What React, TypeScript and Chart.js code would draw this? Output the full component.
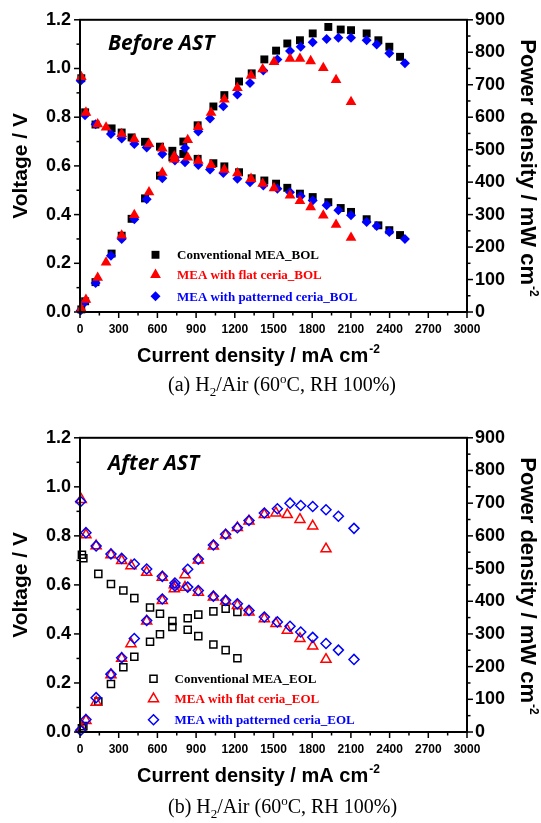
import React, { useEffect, useRef } from 'react';
import { Chart, registerables } from 'chart.js';
import { drawPoint } from 'chart.js/helpers';

Chart.register(...registerables);

const SANS = "'Liberation Sans', Arial, Helvetica, sans-serif";
const SERIF = "'Liberation Serif', 'Times New Roman', Times, serif";

// Axis ticks (mA cm-2, V, mW cm-2)
const currentTicks = [0, 300, 600, 900, 1200, 1500, 1800, 2100, 2400, 2700, 3000];
const voltageTicks = [0, 0.2, 0.4, 0.6, 0.8, 1.0, 1.2];
const powerTicks = [0, 100, 200, 300, 400, 500, 600, 700, 800, 900];

// ---- Before AST (BOL) ----
const bolConvCurrent = [10, 40, 120, 245, 323, 400, 504, 620, 716, 801, 912, 1034, 1119, 1233, 1331, 1429, 1520, 1607, 1705, 1804, 1925, 2021, 2101, 2222, 2313, 2398, 2481];
const bolConvVoltage = [0.96, 0.82, 0.77, 0.754, 0.737, 0.717, 0.699, 0.679, 0.662, 0.649, 0.629, 0.611, 0.598, 0.574, 0.549, 0.54, 0.527, 0.51, 0.486, 0.472, 0.451, 0.427, 0.411, 0.381, 0.356, 0.336, 0.316];
const bolConvPower = [8, 33, 92, 180, 235, 287, 350, 420, 476, 525, 575, 633, 668, 710, 735, 778, 805, 827, 837, 858, 878, 870, 868, 858, 837, 817, 786];

const bolFlatCurrent = [10, 46, 137, 202, 323, 421, 535, 638, 731, 835, 917, 1016, 1119, 1220, 1326, 1416, 1504, 1628, 1705, 1788, 1886, 1985, 2101];
const bolFlatVoltage = [0.965, 0.819, 0.771, 0.758, 0.731, 0.71, 0.69, 0.672, 0.64, 0.635, 0.622, 0.604, 0.585, 0.57, 0.547, 0.527, 0.509, 0.479, 0.456, 0.431, 0.397, 0.359, 0.305];
const bolFlatPower = [10, 38, 106, 153, 236, 299, 369, 429, 470, 530, 570, 614, 655, 690, 728, 748, 770, 780, 780, 773, 752, 715, 647];

const bolPatCurrent = [5, 39, 121, 240, 323, 421, 517, 638, 736, 814, 917, 1008, 1111, 1220, 1318, 1421, 1530, 1628, 1711, 1804, 1912, 2003, 2101, 2222, 2300, 2398, 2519];
const bolPatVoltage = [0.95, 0.808, 0.771, 0.731, 0.713, 0.69, 0.676, 0.649, 0.635, 0.615, 0.604, 0.585, 0.571, 0.547, 0.533, 0.52, 0.506, 0.492, 0.476, 0.458, 0.438, 0.418, 0.397, 0.37, 0.353, 0.329, 0.3];
const bolPatPower = [5, 31, 89, 173, 225, 286, 347, 412, 467, 505, 556, 596, 634, 670, 705, 744, 778, 804, 817, 831, 841, 845, 845, 837, 824, 797, 766];

// ---- After AST (EOL) ----
const eolConvCurrent = [15, 26, 142, 240, 336, 421, 543, 620, 716, 835, 917, 1034, 1129, 1220];
const eolConvVoltage = [0.723, 0.709, 0.645, 0.604, 0.577, 0.546, 0.508, 0.482, 0.453, 0.417, 0.391, 0.357, 0.334, 0.301];
const eolConvPower = [11, 18, 93, 147, 198, 230, 276, 299, 321, 348, 359, 369, 377, 367];

const eolFlatCurrent = [10, 46, 125, 240, 323, 395, 517, 638, 731, 814, 917, 1034, 1129, 1220, 1310, 1429, 1519, 1607, 1705, 1804, 1907];
const eolFlatVoltage = [0.948, 0.804, 0.759, 0.723, 0.699, 0.678, 0.651, 0.631, 0.6, 0.59, 0.57, 0.55, 0.534, 0.516, 0.489, 0.462, 0.442, 0.415, 0.381, 0.35, 0.296];
const eolFlatPower = [9, 35, 91, 175, 225, 270, 339, 402, 438, 481, 526, 569, 602, 625, 645, 665, 670, 665, 650, 630, 560];

const eolPatCurrent = [5, 46, 125, 240, 323, 421, 517, 638, 736, 835, 917, 1034, 1129, 1220, 1310, 1429, 1530, 1628, 1711, 1804, 1907, 2003, 2124];
const eolPatVoltage = [0.94, 0.813, 0.759, 0.726, 0.708, 0.685, 0.665, 0.635, 0.608, 0.591, 0.577, 0.554, 0.537, 0.523, 0.496, 0.469, 0.449, 0.431, 0.408, 0.386, 0.361, 0.334, 0.296];
const eolPatPower = [5, 38, 105, 177, 227, 286, 341, 407, 447, 498, 529, 572, 605, 625, 647, 670, 683, 700, 693, 690, 680, 660, 623];

type Marker = 'rect' | 'triangle' | 'rectRot';

interface Series {
  label: string;
  current: number[];
  voltage: number[];
  power: number[];
  color: string;
  marker: Marker;
  radius: number;
  filled: boolean;
  order: number;
}

interface PanelCfg {
  canvasTop: number;
  height: number;
  padTop: number;
  xAxisHeight: number;
  note: string;
  noteDy: number;
  legendX: number;
  legendTextX: number;
  legendDy: number[];
  series: Series[];
}

const bolSeries: Series[] = [
  { label: 'Conventional MEA_BOL', current: bolConvCurrent, voltage: bolConvVoltage, power: bolConvPower, color: '#000000', marker: 'rect', radius: 5.6, filled: true, order: 3 },
  { label: 'MEA with flat ceria_BOL', current: bolFlatCurrent, voltage: bolFlatVoltage, power: bolFlatPower, color: '#ff0000', marker: 'triangle', radius: 6.2, filled: true, order: 1 },
  { label: 'MEA with patterned ceria_BOL', current: bolPatCurrent, voltage: bolPatVoltage, power: bolPatPower, color: '#0000ff', marker: 'rectRot', radius: 5, filled: true, order: 2 },
];

const eolSeries: Series[] = [
  { label: 'Conventional MEA_EOL', current: eolConvCurrent, voltage: eolConvVoltage, power: eolConvPower, color: '#000000', marker: 'rect', radius: 5, filled: false, order: 3 },
  { label: 'MEA with flat ceria_EOL', current: eolFlatCurrent, voltage: eolFlatVoltage, power: eolFlatPower, color: '#ff0000', marker: 'triangle', radius: 5.8, filled: false, order: 2 },
  { label: 'MEA with patterned ceria_EOL', current: eolPatCurrent, voltage: eolPatVoltage, power: eolPatPower, color: '#0000ff', marker: 'rectRot', radius: 5, filled: false, order: 1 },
];

const panels: PanelCfg[] = [
  { canvasTop: 0, height: 400, padTop: 18, xAxisHeight: 88, note: 'Before AST', noteDy: 30, legendX: 155.5, legendTextX: 177, legendDy: [235, 255, 276.5], series: bolSeries },
  { canvasTop: 418, height: 405, padTop: 18, xAxisHeight: 91, note: 'After AST', noteDy: 32, legendX: 153.5, legendTextX: 174.5, legendDy: [241, 261, 282], series: eolSeries },
];

function buildDatasets(series: Series[]) {
  const out: any[] = [];
  series.forEach((s) => {
    const base = {
      pointStyle: s.marker,
      pointRadius: s.radius,
      pointHoverRadius: s.radius,
      pointBorderWidth: s.filled ? 0 : 1.5,
      pointBackgroundColor: s.filled ? s.color : 'rgba(0,0,0,0)',
      pointBorderColor: s.color,
      showLine: false,
      clip: false,
      order: s.order,
    };
    out.push({ ...base, label: s.label, yAxisID: 'y', data: s.current.map((c, i) => ({ x: c, y: s.voltage[i] })) });
    out.push({ ...base, label: s.label + ' (power)', yAxisID: 'y1', data: s.current.map((c, i) => ({ x: c, y: s.power[i] })) });
  });
  return out;
}

function line(ctx: CanvasRenderingContext2D, x1: number, y1: number, x2: number, y2: number) {
  ctx.beginPath();
  ctx.moveTo(x1, y1);
  ctx.lineTo(x2, y2);
  ctx.stroke();
}

function decorPlugin(cfg: PanelCfg) {
  return {
    id: 'panelDecor',
    afterDraw(chart: any) {
      const ctx: CanvasRenderingContext2D = chart.ctx;
      const a = chart.chartArea;
      const sx = chart.scales.x;
      const sy = chart.scales.y;
      const sy1 = chart.scales.y1;
      ctx.save();
      ctx.strokeStyle = '#000';
      ctx.fillStyle = '#000';

      // outward major / minor ticks
      ctx.lineWidth = 1.5;
      for (let v = 0; v <= 3000; v += 150) {
        const px = sx.getPixelForValue(v);
        line(ctx, px, a.bottom, px, a.bottom + (v % 300 === 0 ? 6 : 3.5));
      }
      for (let i = 0; i <= 12; i++) {
        const py = sy.getPixelForValue(i / 10);
        line(ctx, a.left - (i % 2 === 0 ? 6 : 3.5), py, a.left, py);
      }
      for (let v = 0; v <= 900; v += 50) {
        const py = sy1.getPixelForValue(v);
        line(ctx, a.right, py, a.right + (v % 100 === 0 ? 6 : 3.5), py);
      }

      // frame
      ctx.lineWidth = 2;
      ctx.strokeRect(a.left, a.top, a.right - a.left, a.bottom - a.top);

      // left title
      ctx.font = `bold 21px ${SANS}`;
      ctx.textBaseline = 'alphabetic';
      ctx.save();
      ctx.translate(27, (a.top + a.bottom) / 2);
      ctx.rotate(-Math.PI / 2);
      ctx.textAlign = 'center';
      ctx.fillText('Voltage / V', 0, 0);
      ctx.restore();

      // right title
      ctx.save();
      ctx.translate(520.5, a.top + 19.5);
      ctx.rotate(Math.PI / 2);
      ctx.textAlign = 'left';
      ctx.font = `bold 22px ${SANS}`;
      const rt = 'Power density / mW cm';
      ctx.fillText(rt, 0, 0);
      const rw = ctx.measureText(rt).width;
      ctx.font = `bold 12px ${SANS}`;
      ctx.fillText('-2', rw + 1, -9);
      ctx.restore();

      // bottom title
      ctx.textAlign = 'left';
      ctx.font = `bold 20px ${SANS}`;
      const bt = 'Current density / mA cm';
      const by = a.bottom + 49.5;
      ctx.fillText(bt, 137, by);
      const bw = ctx.measureText(bt).width;
      ctx.font = `bold 12px ${SANS}`;
      ctx.fillText('-2', 137 + bw + 1, by - 9);

      // panel note
      ctx.font = `italic bold 21px 'Open Sans', ${SANS}`;
      ctx.fillText(cfg.note, 108, a.top + cfg.noteDy);

      // legend
      cfg.series.forEach((s, i) => {
        const y = a.top + cfg.legendDy[i];
        ctx.fillStyle = s.filled ? s.color : 'rgba(0,0,0,0)';
        ctx.strokeStyle = s.color;
        ctx.lineWidth = s.filled ? 0 : 1.5;
        drawPoint(ctx, { pointStyle: s.marker, rotation: 0, radius: s.radius, borderWidth: s.filled ? 0 : 1.5 } as any, cfg.legendX, y);
        ctx.fillStyle = s.color;
        ctx.font = `bold 13px ${SERIF}`;
        ctx.textBaseline = 'middle';
        ctx.fillText(s.label, cfg.legendTextX, y + 1);
        ctx.textBaseline = 'alphabetic';
      });

      ctx.restore();
    },
  };
}

function Panel({ cfg }: { cfg: PanelCfg }) {
  const ref = useRef<HTMLCanvasElement>(null);
  useEffect(() => {
    const canvas = ref.current;
    if (!canvas) return;
    const tickFont = (size: number) => ({ family: SANS, size, weight: 'bold' as const });
    const chart = new Chart(canvas, {
      type: 'scatter',
      data: { datasets: buildDatasets(cfg.series) },
      options: {
        animation: false,
        responsive: false,
        devicePixelRatio: 1,
        events: [],
        layout: { padding: { top: cfg.padTop, left: 0, right: 0, bottom: 0 }, autoPadding: false },
        plugins: { legend: { display: false }, tooltip: { enabled: false } },
        scales: {
          x: {
            type: 'linear',
            position: 'bottom',
            min: 0,
            max: 3000,
            afterBuildTicks: (s: any) => { s.ticks = currentTicks.map((v) => ({ value: v })); },
            afterFit: (s: any) => { s.height = cfg.xAxisHeight; },
            ticks: { autoSkip: false, maxRotation: 0, minRotation: 0, padding: 10, color: '#000', font: tickFont(12), callback: (v: any) => String(v) },
            grid: { display: false, drawTicks: false },
            border: { display: false },
          },
          y: {
            type: 'linear',
            position: 'left',
            min: 0,
            max: 1.2,
            afterBuildTicks: (s: any) => { s.ticks = voltageTicks.map((v) => ({ value: v })); },
            afterFit: (s: any) => { s.width = 80; },
            ticks: { padding: 9, color: '#000', font: tickFont(18), callback: (v: any) => Number(v).toFixed(1) },
            grid: { display: false, drawTicks: false },
            border: { display: false },
          },
          y1: {
            type: 'linear',
            position: 'right',
            min: 0,
            max: 900,
            afterBuildTicks: (s: any) => { s.ticks = powerTicks.map((v) => ({ value: v })); },
            afterFit: (s: any) => { s.width = 74; },
            ticks: { padding: 8, color: '#000', font: tickFont(18), callback: (v: any) => String(v) },
            grid: { display: false, drawTicks: false },
            border: { display: false },
          },
        },
      } as any,
      plugins: [decorPlugin(cfg)],
    });
    return () => chart.destroy();
  }, [cfg]);
  return (
    <canvas
      ref={ref}
      width={541}
      height={cfg.height}
      style={{ position: 'absolute', left: 0, top: cfg.canvasTop, width: 541, height: cfg.height }}
    />
  );
}

function Caption({ tag, top }: { tag: string; top: number }) {
  return (
    <div
      style={{
        position: 'absolute',
        left: 168,
        top,
        font: `20px ${SERIF}`,
        lineHeight: '20px',
        whiteSpace: 'nowrap',
        color: '#000',
      }}
    >
      ({tag}) H<span style={{ fontSize: 13, position: 'relative', top: 5 }}>2</span>/Air (60
      <span style={{ fontSize: 13, position: 'relative', top: -8 }}>o</span>C, RH 100%)
    </div>
  );
}

export default function App() {
  return (
    <div style={{ position: 'absolute', left: 0, top: 0, width: 541, height: 823, background: '#fff', overflow: 'hidden' }}>
      <Panel cfg={panels[0]} />
      <Caption tag="a" top={374} />
      <Panel cfg={panels[1]} />
      <Caption tag="b" top={796} />
    </div>
  );
}
